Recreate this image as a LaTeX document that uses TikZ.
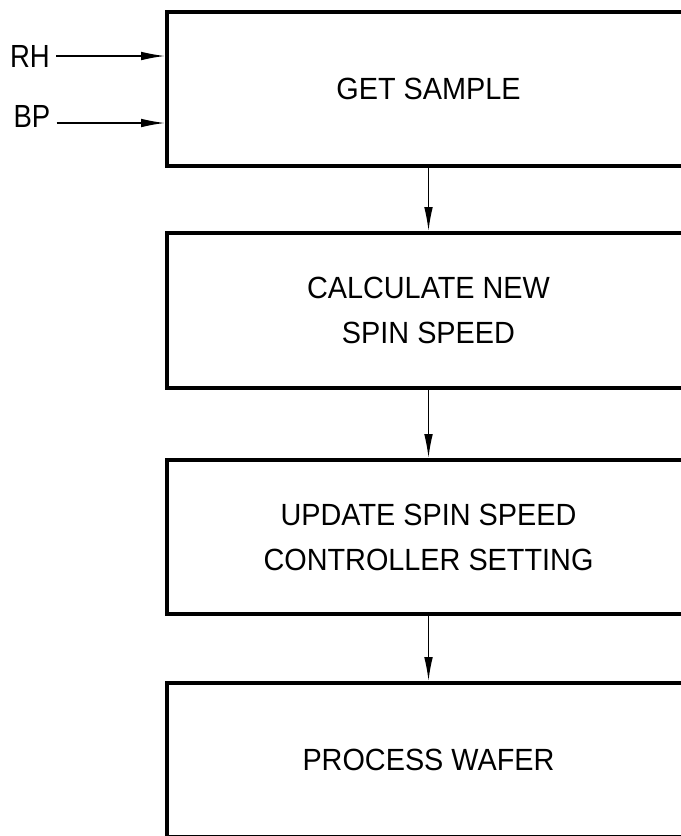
\documentclass[tikz,border=0pt]{standalone}
\usepackage{fontspec}
\setmainfont[FakeStretch=0.94]{Liberation Sans}
\newfontfamily\labelfont[FakeStretch=0.86]{Liberation Sans}
\usetikzlibrary{arrows.meta}
\tikzset{
  stepbox/.style={draw, line width=3pt, rectangle, minimum width=392.25pt,
    align=center, font=\fontsize{23}{33.75}\selectfont, inner sep=0pt},
  inlabel/.style={font=\labelfont\fontsize{24}{28}\selectfont, inner xsep=4.5pt, inner ysep=0pt},
  arr/.style={line width=1.1pt, -{Latex[length=18pt,width=6.5pt]}}
}
\begin{document}
\begin{tikzpicture}[x=0.75pt,y=-0.75pt]
\path[use as bounding box] (0,0) rectangle (681,836);
\clip (0,0) rectangle (681,836);
\node[stepbox, minimum height=115.5pt] (b1) at (428.5,89) {GET SAMPLE};
\node[stepbox, minimum height=116.25pt] (b2) at (428.5,310.5) {CALCULATE NEW\\SPIN SPEED};
\node[stepbox, minimum height=115.5pt] (b3) at (428.5,537) {UPDATE SPIN SPEED\\CONTROLLER SETTING};
\node[stepbox, minimum height=115.5pt] (b4) at (428.5,760) {PROCESS WAFER};
\node[inlabel] (rh) at (30,56) {RH};
\node[inlabel] (bp) at (32,116) {BP};
\draw[arr] (rh.east) -- (rh.east -| b1.west);
\draw[arr] ([yshift=-5.25pt]bp.east) -- ([yshift=-5.25pt]bp.east -| b1.west);
\draw[arr] (b1.south) -- (b2.north);
\draw[arr] (b2.south) -- (b3.north);
\draw[arr] (b3.south) -- (b4.north);
\end{tikzpicture}
\end{document}
